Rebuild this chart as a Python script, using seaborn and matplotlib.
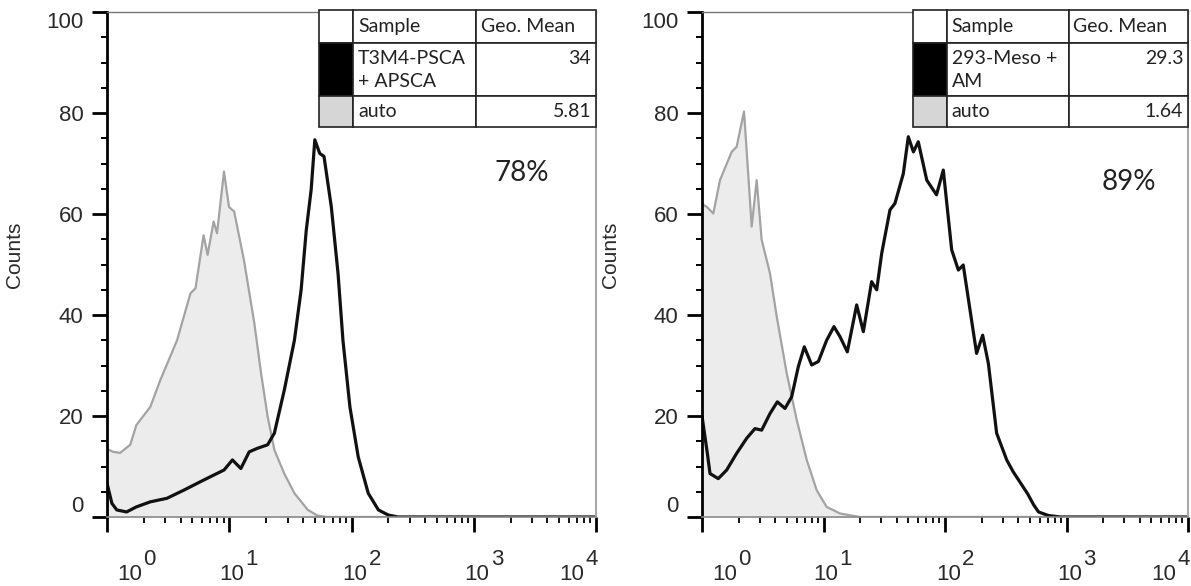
import numpy as np
import pandas as pd
import matplotlib
matplotlib.use("Agg")
import matplotlib.pyplot as plt
from matplotlib.ticker import MultipleLocator, NullFormatter, FixedLocator
from matplotlib.transforms import offset_copy
import seaborn as sns

# ---- histogram data (intensity in decades, counts) ----
left_auto_log = [0.0, 0.05, 0.107, 0.19, 0.24, 0.354, 0.436, 0.573, 0.683, 0.724,
                 0.79, 0.823, 0.872, 0.90, 0.957, 0.998, 1.04, 1.12, 1.205, 1.26,
                 1.314, 1.369, 1.45, 1.533, 1.643, 1.72, 1.8, 4.0]
left_auto_counts = [13.5, 12.9, 12.7, 14.3, 18.2, 21.8, 27.1, 35, 44.3, 45.3,
                    55.8, 51.9, 58.5, 56.2, 68.4, 61.4, 60.5, 50.9, 38.4, 28.5,
                    19.9, 13.3, 8.6, 4.7, 1.4, 0.3, 0, 0]
left_sample_log = [0.0, 0.04, 0.08, 0.16, 0.24, 0.354, 0.49, 0.627, 0.765, 0.848,
                   0.957, 1.026, 1.095, 1.163, 1.23, 1.314, 1.369, 1.45, 1.533, 1.588,
                   1.63, 1.67, 1.70, 1.74, 1.775, 1.835, 1.89, 1.93, 1.987, 2.055,
                   2.137, 2.22, 2.30, 2.38, 4.0]
left_sample_counts = [6.7, 2.7, 1.4, 1.0, 2.0, 3.0, 3.7, 5.3, 7.0, 8.0,
                      9.3, 11.3, 9.6, 12.9, 13.6, 14.3, 16.6, 25.1, 35, 45,
                      56.8, 64.8, 74.7, 72, 71.4, 61.4, 48.2, 35, 21.8, 11.9,
                      4.7, 1.4, 0.4, 0, 0]

right_auto_log = [0.0, 0.04, 0.093, 0.148, 0.244, 0.285, 0.346, 0.409, 0.45, 0.491,
                  0.56, 0.615, 0.697, 0.78, 0.862, 0.944, 1.026, 1.136, 1.3, 4.0]
right_auto_counts = [62, 61.4, 60.1, 66.7, 72.3, 73.3, 80.3, 57.5, 66.7, 54.9,
                     48.2, 39.7, 28.5, 19.2, 11.3, 5.3, 2.0, 0.7, 0, 0]
right_sample_log = [0.0, 0.044, 0.066, 0.134, 0.203, 0.285, 0.368, 0.436, 0.491, 0.56,
                    0.62, 0.683, 0.738, 0.793, 0.842, 0.903, 0.958, 1.026, 1.086, 1.136,
                    1.196, 1.273, 1.328, 1.396, 1.438, 1.479, 1.547, 1.588, 1.657, 1.698,
                    1.74, 1.78, 1.85, 1.93, 1.986, 2.055, 2.11, 2.15, 2.26, 2.31,
                    2.357, 2.425, 2.508, 2.56, 2.62, 2.68, 2.73, 2.77, 2.85, 2.95, 4.0]
right_sample_counts = [20, 12.6, 8.6, 7.6, 9.3, 12.6, 15.6, 17.5, 17.2, 20.5,
                       22.8, 21.5, 23.8, 29.8, 33.7, 30.1, 30.8, 35, 37.7, 35.7,
                       32.7, 42, 36.7, 46.6, 45, 52.2, 60.8, 62.1, 68.0, 75.3,
                       72.3, 74.3, 66.7, 63.8, 68.7, 52.9, 48.9, 49.9, 32.4, 36,
                       30.4, 16.6, 11.3, 9.0, 6.8, 4.6, 2.4, 1.0, 0.3, 0, 0]

# ---- legend tables and annotations ----
left_sample_name = "T3M4-PSCA\n+ APSCA"
left_sample_mean = "34"
left_auto_mean = "5.81"
left_percent = "78%"
right_sample_name = "293-Meso +\nAM"
right_sample_mean = "29.3"
right_auto_mean = "1.64"
right_percent = "89%"
table_header = ["Sample", "Geo. Mean"]
auto_name = "auto"
decade_exponents = [0, 1, 2, 3, 4]
y_ticks = [0, 20, 40, 60, 80, 100]

sns.set_style("ticks")
plt.rcParams["font.family"] = ["Liberation Sans", "DejaVu Sans"]

FILL = "#ececec"
GREY_LINE = "#a3a3a3"
BLACK = "#111111"
TXT = "#2a2a2a"

fig = plt.figure(figsize=(11.91, 5.86), dpi=100)
ax_l = fig.add_axes([107 / 1191, 69 / 586, 489 / 1191, 505 / 586])
ax_r = fig.add_axes([702 / 1191, 69 / 586, 486 / 1191, 505 / 586])


def draw_panel(ax, auto_log, auto_counts, smp_log, smp_counts,
               smp_name, smp_mean, auto_mean, pct, pct_xy, label_offsets):
    auto = pd.DataFrame({"intensity": np.power(10.0, auto_log), "count": auto_counts})
    smp = pd.DataFrame({"intensity": np.power(10.0, smp_log), "count": smp_counts})

    ax.fill_between(auto["intensity"], auto["count"], 0, color=FILL, lw=0, zorder=1)
    sns.lineplot(data=auto, x="intensity", y="count", ax=ax, color=GREY_LINE,
                 lw=1.6, sort=False, estimator=None, zorder=2)
    sns.lineplot(data=smp, x="intensity", y="count", ax=ax, color=BLACK,
                 lw=2.3, sort=False, estimator=None, zorder=3)

    ax.set_xscale("log")
    ax.set_xlim(1, 1e4)
    ax.set_ylim(0, 100)

    # axes frame
    ax.spines["left"].set_color("black")
    ax.spines["left"].set_linewidth(2.0)
    ax.spines["bottom"].set_color("#8a8a8a")
    ax.spines["bottom"].set_linewidth(1.2)
    ax.spines["top"].set_color("#777777")
    ax.spines["top"].set_linewidth(1.0)
    ax.spines["right"].set_color("#a8a8a8")
    ax.spines["right"].set_linewidth(1.5)
    for s in ax.spines.values():
        s.set_zorder(4)

    # y axis
    ax.yaxis.set_major_locator(FixedLocator(y_ticks))
    ax.yaxis.set_minor_locator(MultipleLocator(5))
    ax.set_yticklabels([str(v) for v in y_ticks])
    ax.tick_params(axis="y", which="major", direction="out", length=11, width=2,
                   color="black", pad=6, labelsize=16, labelcolor=TXT)
    ax.tick_params(axis="y", which="minor", direction="out", length=4.5, width=1.4,
                   color="black")
    labs = ax.get_yticklabels()
    labs[0].set_verticalalignment("bottom")
    labs[-1].set_verticalalignment("top")
    ax.set_ylabel("Counts", fontsize=15, color=TXT)
    ax.yaxis.set_label_coords(-83 / 489, 0.52)

    # x axis: decades with superscript exponents
    ax.xaxis.set_major_locator(FixedLocator([10.0 ** k for k in decade_exponents]))
    ax.set_xticklabels([""] * len(decade_exponents))
    ax.xaxis.set_minor_formatter(NullFormatter())
    ax.tick_params(axis="x", which="major", direction="out", length=11, width=2,
                   color="black")
    ax.tick_params(axis="x", which="minor", direction="out", length=4.5, width=1.3,
                   color="black")
    ax.set_xlabel("")
    base_tr = ax.get_xaxis_transform()
    for k, dx in zip(decade_exponents, label_offsets):
        ax.text(10.0 ** k, 0, "10", fontsize=16, color=TXT, ha="left", va="baseline",
                transform=offset_copy(base_tr, fig=fig, x=dx, y=-63, units="dots"),
                clip_on=False)
        ax.text(10.0 ** k, 0, str(k), fontsize=16, color=TXT, ha="left", va="baseline",
                transform=offset_copy(base_tr, fig=fig, x=dx + 26, y=-48, units="dots"),
                clip_on=False)

    # legend table in the upper-right corner
    x0 = 0.434
    col_frac = [0.123, 0.443, 0.434]
    row_frac = [0.28, 0.46, 0.26]
    cells = [["", table_header[0], table_header[1]],
             ["", smp_name, smp_mean + "\n"],
             ["", auto_name, auto_mean]]
    colours = [["white", "white", "white"],
               ["black", "white", "white"],
               ["#d6d6d6", "white", "white"]]
    tbl = ax.table(cellText=cells, cellColours=colours, cellLoc="left",
                   colWidths=col_frac, bbox=[x0, 0.773, 1 - x0, 0.23], zorder=6)
    tbl.auto_set_font_size(False)
    tbl.set_fontsize(14)
    for (r, c), cell in tbl.get_celld().items():
        cell.set_height(row_frac[r])
        cell.set_linewidth(1.2)
        cell.set_edgecolor("#222222")
        cell.PAD = 0.04
        t = cell.get_text()
        t.set_fontfamily(["Lato", "DejaVu Sans"])
        t.set_color("#222222")
        if r == 1:
            t.set_linespacing(1.45)
        if c == 2 and r > 0:
            cell._loc = "right"
            t.set_horizontalalignment("right")
            t.set_multialignment("right")

    ax.text(pct_xy[0], pct_xy[1], pct, transform=ax.transAxes, ha="center", va="center",
            fontsize=20, color="#222222", family=["Lato", "DejaVu Sans"])


draw_panel(ax_l, left_auto_log, left_auto_counts, left_sample_log, left_sample_counts,
           left_sample_name, left_sample_mean, left_auto_mean, left_percent,
           (0.849, 0.681), [10, -10, -9, -9, -37])
draw_panel(ax_r, right_auto_log, right_auto_counts, right_sample_log, right_sample_counts,
           right_sample_name, right_sample_mean, right_auto_mean, right_percent,
           (0.879, 0.663), [10, -10, -9, -9, -37])

fig.savefig("out.png", dpi=100)
